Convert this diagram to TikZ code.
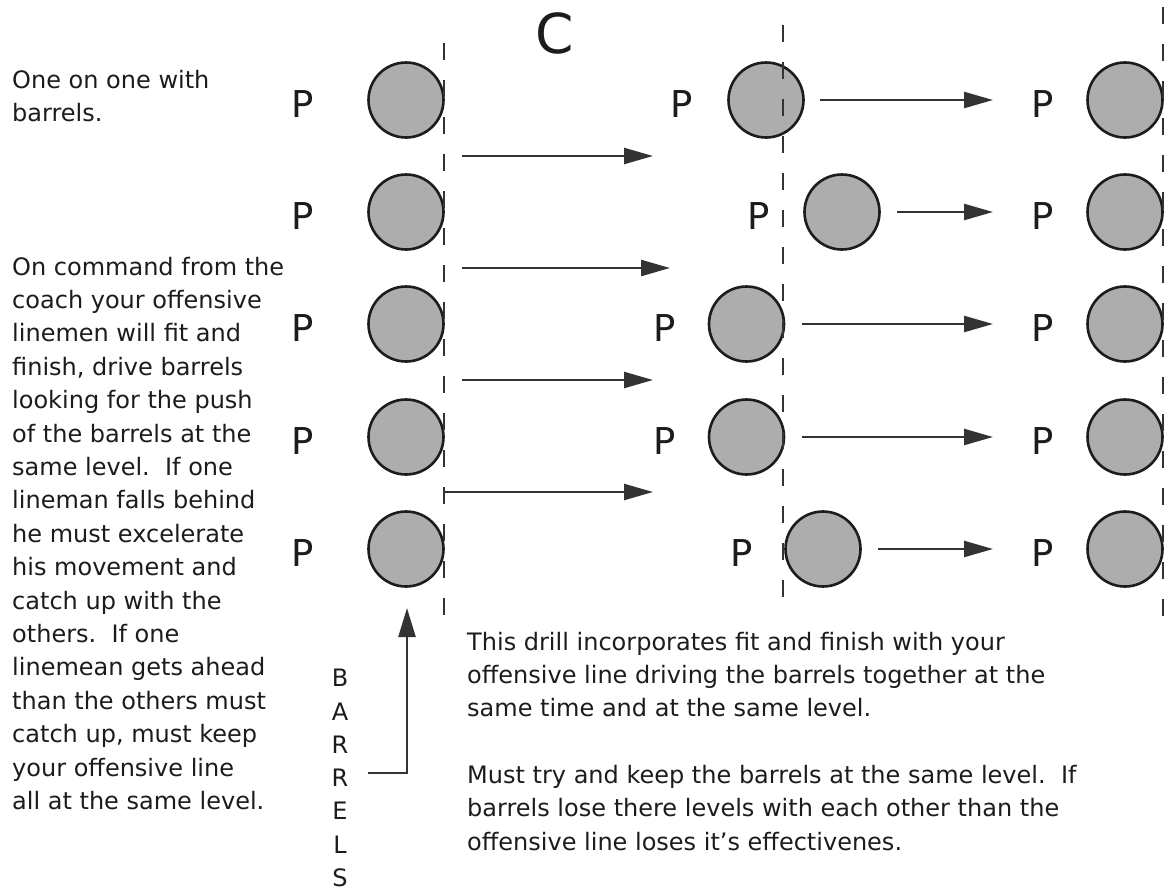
\documentclass[tikz,border=0pt]{standalone}
\usepackage{fontspec}
\setmainfont{DejaVu Sans}
\usetikzlibrary{arrows.meta}
\definecolor{ink}{HTML}{1C1C1C}
\definecolor{barrelfill}{HTML}{ADADAD}
\begin{document}
\begin{tikzpicture}[x=1pt,y=-1pt,
  barrel/.style={circle, draw=ink, line width=2.6pt, fill=barrelfill, minimum size=75pt, inner sep=0pt},
  plabel/.style={font=\fontsize{37}{40}\selectfont, text=ink, inner sep=0pt},
  body/.style={font=\fontsize{24}{33.4}\selectfont, text=ink, inner sep=0pt, anchor=base west},
  letter/.style={font=\fontsize{24}{28}\selectfont, text=ink, inner sep=0pt},
  guide/.style={line width=2.4pt, draw=ink!90, dash pattern=on 17pt off 20pt},
  move/.style={line width=2.4pt, draw=ink!90, -{Triangle[length=29pt,width=16pt]}},
]
\useasboundingbox[fill=white] (0,0) rectangle (1167,892);

% left column
\foreach \y [count=\i] in {100,212,324,437,549} {
  \node[barrel] (L\i) at (406,\y) {};
  \node[plabel] (LP\i) at (303,\y+4) {P};
}
% middle column
\foreach \cx/\px/\y [count=\i] in {766/682/100, 842/759/212, 746.5/665/324, 746.5/665/437, 823/742/549} {
  \node[barrel] (M\i) at (\cx,\y) {};
  \node[plabel] (MP\i) at (\px,\y+4) {P};
}
% right column
\foreach \y [count=\i] in {100,212,324,437,549} {
  \node[barrel] (R\i) at (1125,\y) {};
  \node[plabel] (RP\i) at (1043,\y+4) {P};
}

% dashed lines
\coordinate (g1a) at (444,43);  \coordinate (g1b) at (444,623);
\coordinate (g2a) at (783,25);  \coordinate (g2b) at (783,605);
\coordinate (g3a) at (1163,7);  \coordinate (g3b) at (1163,623);
\draw[guide] (g1a) -- (g1b);
\draw[guide] (g2a) -- (g2b);
\draw[guide] (g3a) -- (g3b);

% title
\node[font=\fontsize{55}{60}\selectfont, text=ink, inner sep=0pt] (C) at (555,33) {C};

% arrows left -> middle
\coordinate (a1s) at (462,156); \coordinate (a1e) at (653,156);
\coordinate (a2s) at (462,268); \coordinate (a2e) at (670,268);
\coordinate (a3s) at (462,380); \coordinate (a3e) at (653,380);
\coordinate (a4s) at (444,492); \coordinate (a4e) at (653,492);
\draw[move] (a1s) -- (a1e);
\draw[move] (a2s) -- (a2e);
\draw[move] (a3s) -- (a3e);
\draw[move] (a4s) -- (a4e);

% arrows middle -> right
\coordinate (b1s) at (820,100); \coordinate (b1e) at (993,100);
\coordinate (b2s) at (897,212); \coordinate (b2e) at (993,212);
\coordinate (b3s) at (802,324); \coordinate (b3e) at (993,324);
\coordinate (b4s) at (802,437); \coordinate (b4e) at (993,437);
\coordinate (b5s) at (878,549); \coordinate (b5e) at (993,549);
\draw[move] (b1s) -- (b1e);
\draw[move] (b2s) -- (b2e);
\draw[move] (b3s) -- (b3e);
\draw[move] (b4s) -- (b4e);
\draw[move] (b5s) -- (b5e);

% BARRELS label and arrow
\foreach \ch [count=\i] in {B,A,R,R,E,L,S} {
  \node[letter] (bl\i) at (340,{678+33.3*(\i-1)}) {\ch};
}
\coordinate (bs) at (368,773);
\coordinate (bc) at (407,773);
\coordinate (be) at (407,608);
\draw[move, -{Triangle[length=29pt,width=17pt]}] (bs) -- (bc) -- (be);

% left text
\node[body] (t1) at (12,88) {One on one with};
\node[body] (t2) at (12,121) {barrels.};
\foreach \ln [count=\i] in {
  {On command from the},
  {coach your offensive},
  {linemen will fit and},
  {finish, drive barrels},
  {looking for the push},
  {of the barrels at the},
  {same level.\ \ If one},
  {lineman falls behind},
  {he must excelerate},
  {his movement and},
  {catch up with the},
  {others.\ \ If one},
  {linemean gets ahead},
  {than the others must},
  {catch up, must keep},
  {your offensive line},
  {all at the same level.}} {
  \node[body] (p\i) at (12,{275+33.4*(\i-1)}) {\ln};
}

% bottom right text
\node[body] (q1) at (467,650) {This drill incorporates fit and finish with your};
\node[body] (q2) at (467,683) {offensive line driving the barrels together at the};
\node[body] (q3) at (467,716) {same time and at the same level.};
\node[body] (q4) at (467,783) {Must try and keep the barrels at the same level.\ \ If};
\node[body] (q5) at (467,816) {barrels lose there levels with each other than the};
\node[body] (q6) at (467,850) {offensive line loses it's effectivenes.};
\end{tikzpicture}
\end{document}
